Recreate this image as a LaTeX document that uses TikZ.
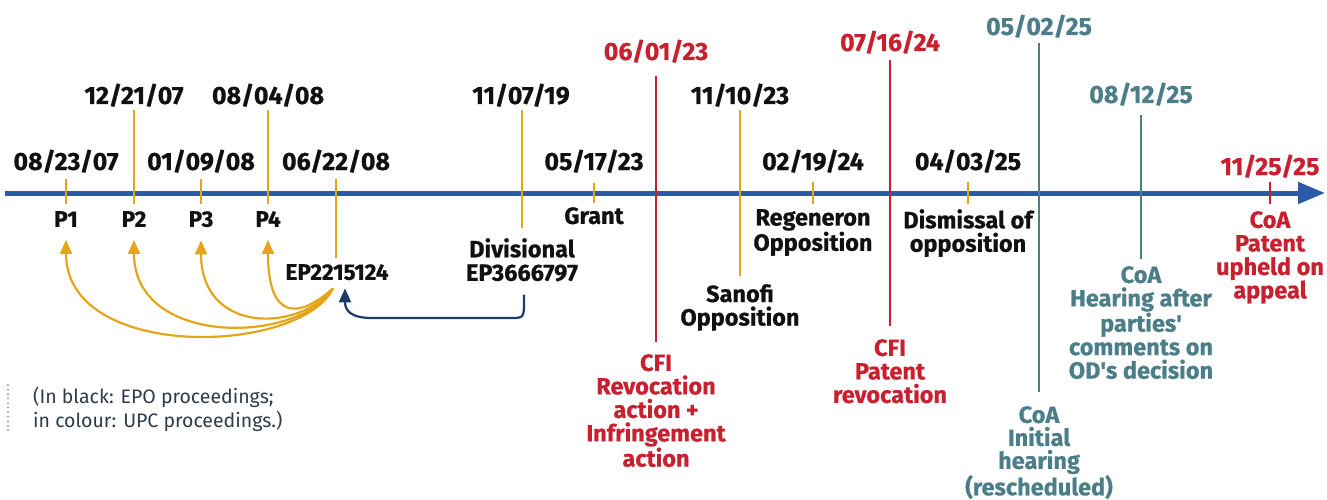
\documentclass[tikz,border=0pt]{standalone}
\usepackage{fontspec}
\setmainfont{Fira Sans}[BoldFeatures={FakeBold=0.6}]
\usetikzlibrary{arrows.meta,calc}
\definecolor{axisblue}{HTML}{2C5AA8}
\definecolor{ochre}{HTML}{E3A51A}
\definecolor{upcred}{HTML}{C8202F}
\definecolor{coateal}{HTML}{4B7E89}
\definecolor{arrownavy}{HTML}{1E3A6B}
\definecolor{notegray}{HTML}{2D3A4A}
\definecolor{dotgray}{HTML}{8A9099}
\definecolor{inkblack}{HTML}{111111}
\begin{document}
\begin{tikzpicture}[x=1pt,y=-1pt,
  datelbl/.style={font=\fontsize{25}{25}\selectfont\bfseries, inner sep=0, anchor=base, text=inkblack},
  evlbl/.style={font=\fontsize{23.5}{23.5}\selectfont\bfseries, inner sep=0, align=center, anchor=north, text=inkblack},
  plbl/.style={font=\fontsize{22.5}{23}\selectfont\bfseries, inner sep=0, anchor=north, text=inkblack},
  ticko/.style={line width=2.6pt, ochre},
  tickr/.style={line width=2.6pt, upcred},
  tickt/.style={line width=2.6pt, coateal},
  priarrow/.style={line width=2.2pt, ochre, -{Triangle[width=12pt,length=14pt]}},
  divarrow/.style={line width=2.2pt, arrownavy, -{Triangle[width=12pt,length=14pt]}}
]
\useasboundingbox (0,0) rectangle (1327,500);

% axis
\coordinate (axL) at (5,193);
\coordinate (axR) at (1325,193);
\draw[line width=5pt, axisblue, -{Triangle[width=21pt,length=27pt]}] (axL) -- (axR);

% ticks
\draw[ticko] (66,179) -- (66,204);
\draw[ticko] (134,110) -- (134,204);
\draw[ticko] (201,179) -- (201,204);
\draw[ticko] (268,110) -- (268,204);
\draw[ticko] (336,179) -- (336,258);
\draw[ticko] (522,110) -- (522,228);
\draw[ticko] (594,183) -- (594,203);
\draw[tickr] (656,76) -- (656,342);
\draw[ticko] (740,110) -- (740,276);
\draw[ticko] (813,182) -- (813,204);
\draw[tickr] (890,60) -- (890,326);
\draw[ticko] (968,182) -- (968,204);
\draw[tickt] (1039,43) -- (1039,392);
\draw[tickt] (1141,115) -- (1141,259);
\draw[tickr] (1270,182) -- (1270,204);

% dates
\node[datelbl] (d1) at (66,170) {08/23/07};
\node[datelbl] (d2) at (134,104) {12/21/07};
\node[datelbl] (d3) at (201,170) {01/09/08};
\node[datelbl] (d4) at (268,104) {08/04/08};
\node[datelbl] (d5) at (336,170) {06/22/08};
\node[datelbl] (d6) at (521,104) {11/07/19};
\node[datelbl] (d7) at (594,170) {05/17/23};
\node[datelbl, text=upcred] (d8) at (656,60) {06/01/23};
\node[datelbl] (d9) at (740,104) {11/10/23};
\node[datelbl] (d10) at (813,170) {02/19/24};
\node[datelbl, text=upcred] (d11) at (890,51) {07/16/24};
\node[datelbl] (d12) at (968,170) {04/03/25};
\node[datelbl, text=coateal] (d13) at (1039,35) {05/02/25};
\node[datelbl, text=coateal] (d14) at (1141,103) {08/12/25};
\node[datelbl, text=upcred] (d15) at (1270,175) {11/25/25};

% event labels
\node[plbl] (p1) at (66,211) {P1};
\node[plbl] (p2) at (134,211) {P2};
\node[plbl] (p3) at (201,211) {P3};
\node[plbl] (p4) at (268,211) {P4};
\node[plbl] (ep) at (337,264) {EP2215124};
\node[evlbl] (div) at (522,238) {Divisional\\EP3666797};
\node[evlbl] (grant) at (594,207) {Grant};
\node[evlbl, text=upcred] (cfi1) at (656,354) {CFI\\Revocation\\action +\\Infringement\\action};
\node[evlbl] (sanofi) at (740,284) {Sanofi\\Opposition};
\node[evlbl] (regen) at (813,209) {Regeneron\\Opposition};
\node[evlbl, text=upcred] (cfi2) at (890,339) {CFI\\Patent\\revocation};
\node[evlbl] (dism) at (968,209) {Dismissal of\\opposition};
\node[evlbl, text=coateal, font=\fontsize{23.5}{23}\selectfont\bfseries] (coa1) at (1039,406) {CoA\\Initial\\hearing\\(rescheduled)};
\node[evlbl, text=coateal] (coa2) at (1141,266) {CoA\\Hearing after\\parties\textquotesingle\\comments on\\OD\textquotesingle s decision};
\node[evlbl, text=upcred] (coa3) at (1270,211) {CoA\\Patent\\upheld on\\appeal};

% priority arrows
\coordinate (eps) at ($(ep.south)+(-4,8)$);
\draw[priarrow] (eps) .. controls (300,355) and (66,362) .. ($(p1.south)+(0,13)$);
\draw[priarrow] (eps) .. controls (300,344) and (134,348) .. ($(p2.south)+(0,13)$);
\draw[priarrow] (eps) .. controls (300,332) and (201,335) .. ($(p3.south)+(0,13)$);
\draw[priarrow] (eps) .. controls (300,318) and (268,322) .. ($(p4.south)+(0,13)$);

% divisional arrow
\draw[divarrow] ($(div.south)+(2,13)$) -- ++(0,6) .. controls ++(0,19) and ++(19,0) .. (505,318) -- (372,318) .. controls (350,318) and (345,310) .. ($(ep.south)+(8,8)$);

% note
\draw[dotgray, line width=2pt, dash pattern=on 0.01pt off 4.5pt, line cap=round] (8,385) -- (8,432);
\node[font=\fontsize{19.5}{23.5}\selectfont, text=notegray, align=left, anchor=north west, inner sep=0] (note) at (33,387) {(In black: EPO proceedings;\\in colour: UPC proceedings.)};
\end{tikzpicture}
\end{document}
